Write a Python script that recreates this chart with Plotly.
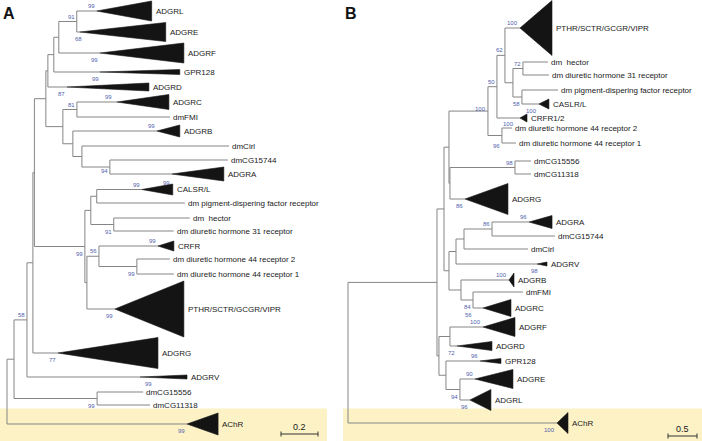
import plotly.graph_objects as go

# ======================= Panel A data =======================
A_node = ["rootA", "AChR", "n1", "n2", "dmCGn", "dmCG15556", "dmCG11318",
          "ADGRV", "n3b", "n3a", "ADGRG", "nUp", "n4", "nUa", "ADGRD", "nUb",
          "GPR128", "nUc", "ADGRF", "nLE", "ADGRL", "ADGRE", "nC", "nCF",
          "ADGRC", "dmFMI", "nB", "ADGRB", "nCirl", "dmCirl", "nA",
          "dmCG15744", "ADGRA", "nHC", "n5", "nCal", "CALSR/L", "pigment",
          "nHec", "hector", "dm31", "n56", "PTHR", "CRFR", "n44", "r2", "r1"]
A_parent = [None, "rootA", "rootA", "n1", "n1", "dmCGn", "dmCGn",
            "n2", "n2", "n3b", "n3b", "n3a", "n3a", "nUp", "nUa", "nUa",
            "nUb", "nUb", "nUc", "nUc", "nLE", "nLE", "nUp", "nC",
            "nCF", "nCF", "nC", "nB", "nB", "nCirl", "nCirl",
            "nA", "nA", "n4", "n4", "nHC", "nCal", "nCal",
            "nHC", "nHec", "nHec", "n5", "n5", "n56", "n56", "n44", "n44"]
A_length = [0, 0.973, 0.038, 0.070, 0.449, 0.249, 0.286,
            0.611, 0.032, 0.008, 0.135, 0.062, 0.273, 0.011, 0.103, 0.032,
            0.249, 0.027, 0.222, 0.097, 0.108, 0.016, 0.092, 0.076,
            0.216, 0.503, 0.054, 0.454, 0.049, 0.795, 0.151,
            0.638, 0.335, 0.032, 0.011, 0.032, 0.243, 0.476,
            0.124, 0.411, 0.324, 0.065, 0.151, 0.319, 0.205, 0.178, 0.200]
A_tip = ["ADGRL", "ADGRE", "ADGRF", "GPR128", "ADGRD", "ADGRC", "dmFMI", "ADGRB",
         "dmCirl", "dmCG15744", "ADGRA", "CALSR/L", "pigment", "hector", "dm31",
         "CRFR", "r2", "r1", "PTHR", "ADGRG", "ADGRV", "dmCG15556", "dmCG11318", "AChR"]
A_tip_row = [11, 32, 53, 72, 87, 102, 117, 131, 146, 160, 174, 189.5, 203, 218, 231,
             246, 259, 274, 309, 353, 377, 392, 405, 424]
A_tip_label = ["ADGRL", "ADGRE", "ADGRF", "GPR128", "ADGRD", "ADGRC", "dmFMI", "ADGRB",
               "dmCirl", "dmCG15744", "ADGRA", "CALSR/L",
               "dm pigment-dispering factor receptor", "dm\u00a0 hector",
               "dm diuretic hormone 31 receptor", "CRFR",
               "dm diuretic hormone 44 receptor 2", "dm diuretic hormone 44 receptor 1",
               "PTHR/SCTR/GCGR/VIPR", "ADGRG", "ADGRV", "dmCG15556", "dmCG11318", "AChR"]
A_clade_len = [0.297, 0.465, 0.454, 0.432, 0.443, 0.281, 0, 0.124, 0, 0, 0.281, 0.168,
               0, 0, 0, 0.086, 0, 0, 0.373, 0.541, 0.254, 0, 0, 0.168]
A_clade_span = [20, 19, 20, 5, 8, 15, 0, 12, 0, 0, 14, 11, 0, 0, 0, 10, 0, 0, 56, 31, 4, 0, 0, 22]
A_boot_node = ["ADGRL", "nLE", "ADGRE", "ADGRF", "ADGRD", "ADGRD", "nCF", "ADGRC", "ADGRB",
               "nA", "CALSR/L", "CALSR/L", "nHec", "n4", "n56", "CRFR", "n44", "PTHR",
               "n2", "ADGRG", "ADGRV", "dmCGn", "AChR"]
A_boot_value = ["99", "91", "68", "99", "99", "87", "81", "99", "99",
                "94", "99", "99", "91", "99", "56", "99", "99", "99",
                "58", "77", "99", "99", "99"]
A_scale = 0.2

# ======================= Panel B data =======================
B_node = ["rootB", "AChR", "b1", "bUp", "b2", "Q", "L1", "n488", "P", "dmCGn",
          "dmCG15556", "dmCG11318", "ADGRG", "n497", "n502", "r2", "r1", "n505",
          "CRFR1/2", "PTHR", "n513", "n523", "n522", "hector", "dm31", "pigment",
          "CASLR/L", "n456", "n461", "n464", "ADGRV", "n492", "dmCirl", "ADGRA",
          "dmCG15744", "ADGRB", "n473", "dmFMI", "ADGRC", "nFD", "n446", "ADGRF",
          "ADGRD", "GPR128", "n460", "ADGRE", "ADGRL"]
B_parent = [None, "rootB", "rootB", "b1", "b1", "bUp", "bUp", "Q", "Q", "P",
            "dmCGn", "dmCGn", "P", "n488", "n488", "n502", "n502", "n497",
            "n497", "n505", "n505", "n513", "n513", "n523", "n523", "n522",
            "n522", "L1", "L1", "n456", "n456", "n464", "n464", "n492",
            "n492", "n461", "n461", "n473", "n473", "b2", "b2", "nFD",
            "nFD", "n446", "n446", "n460", "n460"]
B_length = [0, 3.603, 1.534, 0.121, 0.034, 0.086, 0.086, 0.672, 0.017, 1.121,
            0.276, 0.276, 0.259, 0.155, 0.241, 0.172, 0.241, 0.138,
            0.397, 0.259, 0.138, 0.172, 0.155, 0.431, 0.448, 0.621,
            0.293, 0.121, 0.207, 0.138, 1.397, 0.483, 1.103, 0.638,
            1.086, 0.828, 0.207, 0.862, 0.172, 0.190, 0.121, 0.569,
            0.121, 0.586, 0.241, 0.259, 0.172]
B_tip = ["PTHR", "hector", "dm31", "pigment", "CASLR/L", "CRFR1/2", "r2", "r1",
         "dmCG15556", "dmCG11318", "ADGRG", "ADGRA", "dmCG15744", "dmCirl", "ADGRV",
         "ADGRB", "dmFMI", "ADGRC", "ADGRF", "ADGRD", "GPR128", "ADGRE", "ADGRL", "AChR"]
B_tip_row = [28, 62, 75, 90, 104, 118, 128, 143, 161, 174, 199, 222, 236, 249, 264,
             280, 292, 308, 327, 346, 361, 379, 400, 423]
B_tip_label = ["PTHR/SCTR/GCGR/VIPR", "dm\u00a0 hector", "dm diuretic hormone 31 receptor",
               "dm pigment-dispering factor receptor", "CASLR/L", "CRFR1/2",
               "dm diuretic hormone 44 receptor 2", "dm diuretic hormone 44 receptor 1",
               "dmCG15556", "dmCG11318", "ADGRG", "ADGRA", "dmCG15744", "dmCirl", "ADGRV",
               "ADGRB", "dmFMI", "ADGRC", "ADGRF", "ADGRD", "GPR128", "ADGRE", "ADGRL", "AChR"]
B_clade_len = [0.552, 0, 0, 0, 0.172, 0.121, 0, 0, 0, 0, 0.741, 0.397, 0, 0, 0.172,
               0.086, 0, 0.483, 0.552, 0.603, 0.362, 0.655, 0.362, 0.190]
B_clade_span = [55, 0, 0, 0, 10, 8, 0, 0, 0, 0, 31, 13, 0, 0, 4, 14, 0, 17, 19, 9, 5, 19, 21, 21]
B_boot_node = ["PTHR", "n505", "n523", "n497", "n522", "CASLR/L", "n488", "CRFR1/2",
               "n502", "dmCGn", "ADGRG", "ADGRA", "n492", "ADGRV", "ADGRB", "n473",
               "ADGRC", "ADGRF", "ADGRD", "GPR128", "ADGRE", "n460", "ADGRL", "AChR"]
B_boot_value = ["100", "62", "72", "50", "58", "100", "100", "100",
                "96", "98", "86", "96", "86", "98", "100", "84",
                "56", "100", "72", "96", "90", "94", "96", "100"]
B_scale = 0.5

# ======================= style =======================
A_boot_side = ["a", "a", "b", "b", "a", "b", "a", "a", "a", "b", "a", "a", "b", "b", "a", "a",
               "b", "b", "a", "b", "b", "b", "b"]
A_boot_nudge = {2: (4, 0), 4: (34, 3), 7: (-3, 0), 9: (0, 3), 11: (30, 2), 20: (14, 0)}
B_boot_side = ["a", "a", "a", "a", "b", "b", "a", "b", "b", "a", "b", "a", "a", "b", "a", "b",
               "b", "a", "b", "a", "a", "b", "b", "b"]
B_boot_nudge = {6: (0, -3), 7: (-4, 1), 8: (0, -3), 13: (3, 0), 16: (-9, 0)}

W, H = 702, 441
A_PX, A_X0, A_W = 185.0, 7.0, 340.0     # px per unit, root pixel, panel width
B_PX, B_X0, B_W = 58.0, 8.0, 362.0
LINE = "#858585"
FONT = "Liberation Sans, Arial, sans-serif"
BOOT = "#4f5fae"


def build(nodes, parents, lengths, tips, rows):
    kids = {n: [] for n in nodes}
    for n, p in zip(nodes, parents):
        if p is not None:
            kids[p].append(n)
    blen = dict(zip(nodes, lengths))
    par = dict(zip(nodes, parents))
    row = dict(zip(tips, rows))
    xs, ys = {}, {}

    def fx(n):
        if n not in xs:
            xs[n] = blen[n] + (fx(par[n]) if par[n] is not None else 0.0)
        return xs[n]

    def fy(n):
        if n not in ys:
            if kids[n]:
                cy = [fy(c) for c in kids[n]]
                ys[n] = (min(cy) + max(cy)) / 2.0
            else:
                ys[n] = row[n]
        return ys[n]

    for n in nodes:
        fx(n)
        fy(n)
    return kids, xs, ys


fig = go.Figure()
annotations = []
shapes = []


def draw(xref, nodes, parents, lengths, tips, rows, labels, clen, cspan,
         bnode, bval, bside, bnudge, scale, scale_x0, scale_y):
    kids, xs, ys = build(nodes, parents, lengths, tips, rows)
    lx, ly = [], []
    for n in nodes:
        if kids[n]:
            cy = [ys[c] for c in kids[n]]
            lx += [xs[n], xs[n], None]
            ly += [min(cy), max(cy), None]
            for c in kids[n]:
                lx += [xs[n], xs[c], None]
                ly += [ys[c], ys[c], None]
    fig.add_trace(go.Scatter(x=lx, y=ly, mode="lines", xaxis=xref, yaxis="y",
                             line=dict(color=LINE, width=1), hoverinfo="skip",
                             showlegend=False))
    tx, ty = [], []
    for t, r, L, S in zip(tips, rows, clen, cspan):
        if L > 0:
            x0 = xs[t]
            tx += [x0, x0 + L, x0 + L, x0, None]
            ty += [r, r - S / 2.0, r + S / 2.0, r, None]
    fig.add_trace(go.Scatter(x=tx, y=ty, mode="lines", fill="toself", fillcolor="#141414",
                             xaxis=xref, yaxis="y", line=dict(color="#141414", width=0.6),
                             hoverinfo="skip", showlegend=False))
    for t, r, lab, L in zip(tips, rows, labels, clen):
        annotations.append(dict(x=xs[t] + L, y=r, xref=xref, yref="y", text=lab,
                                showarrow=False, xanchor="left", yanchor="middle",
                                xshift=3 if L > 0 else 2, borderpad=0,
                                font=dict(family=FONT, size=8, color="#1a1a1a")))
    for i, (n, v, s) in enumerate(zip(bnode, bval, bside)):
        dx, dy = bnudge.get(i, (0, 0))
        annotations.append(dict(x=xs[n], y=ys[n], xref=xref, yref="y", text=v,
                                showarrow=False, xanchor="right", yanchor="middle",
                                xshift=-1 + dx, yshift=(5 if s == "a" else -7) + dy,
                                borderpad=0,
                                font=dict(family=FONT, size=6, color=BOOT)))
    sx0 = scale_x0
    sx1 = sx0 + scale
    shapes.append(dict(type="line", xref=xref, yref="y", x0=sx0, x1=sx1, y0=scale_y, y1=scale_y,
                       line=dict(color="#333333", width=1)))
    for sx in (sx0, sx1):
        shapes.append(dict(type="line", xref=xref, yref="y", x0=sx, x1=sx,
                           y0=scale_y - 2.5, y1=scale_y + 2.5, line=dict(color="#333333", width=1)))
    annotations.append(dict(x=(sx0 + sx1) / 2, y=scale_y, xref=xref, yref="y", text=str(scale),
                            showarrow=False, xanchor="center", yanchor="bottom", yshift=1,
                            borderpad=0, font=dict(family=FONT, size=9, color="#1a1a1a")))


shapes.append(dict(type="rect", xref="paper", yref="y", x0=0, x1=327 / W, y0=408.5, y1=441,
                   fillcolor="#fcf2c6", line=dict(width=0), layer="below"))
shapes.append(dict(type="rect", xref="paper", yref="y", x0=343 / W, x1=1, y0=408.5, y1=441,
                   fillcolor="#fcf2c6", line=dict(width=0), layer="below"))

draw("x", A_node, A_parent, A_length, A_tip, A_tip_row, A_tip_label, A_clade_len,
     A_clade_span, A_boot_node, A_boot_value, A_boot_side, A_boot_nudge,
     A_scale, (281 - A_X0) / A_PX, 434)
draw("x2", B_node, B_parent, B_length, B_tip, B_tip_row, B_tip_label, B_clade_len,
     B_clade_span, B_boot_node, B_boot_value, B_boot_side, B_boot_nudge,
     B_scale, (668 - 340 - B_X0) / B_PX, 436)

annotations.append(dict(x=1 / W, y=13, xref="paper", yref="y", text="<b>A</b>", showarrow=False,
                        xanchor="left", yanchor="middle",
                        font=dict(family=FONT, size=16, color="#111111")))
annotations.append(dict(x=343 / W, y=13, xref="paper", yref="y", text="<b>B</b>", showarrow=False,
                        xanchor="left", yanchor="middle",
                        font=dict(family=FONT, size=16, color="#111111")))

fig.update_layout(
    width=W, height=H, margin=dict(l=0, r=0, t=0, b=0),
    paper_bgcolor="white", plot_bgcolor="rgba(0,0,0,0)",
    xaxis=dict(domain=[0, A_W / W], range=[-A_X0 / A_PX, (A_W - A_X0) / A_PX],
               visible=False, fixedrange=True),
    xaxis2=dict(domain=[A_W / W, 1], range=[-B_X0 / B_PX, (B_W - B_X0) / B_PX],
                visible=False, anchor="y", fixedrange=True),
    yaxis=dict(domain=[0, 1], range=[H, 0], visible=False, fixedrange=True),
    annotations=annotations, shapes=shapes, showlegend=False,
)

fig.write_html("out.html", config={"displayModeBar": False},
               post_script="document.body.style.margin='0';document.body.style.overflow='hidden';")
